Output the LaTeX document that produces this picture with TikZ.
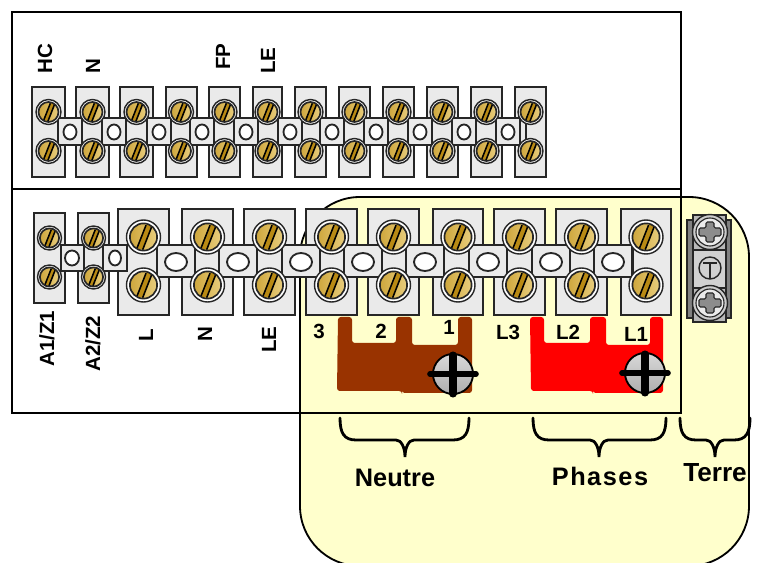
\documentclass[tikz,border=0pt]{standalone}
\usepackage{fontspec}
\setmainfont{Liberation Sans}
\usepackage{xcolor}
\definecolor{fondjaune}{HTML}{FFFFCC}
\definecolor{gris}{HTML}{EAEAEA}
\definecolor{laiton}{HTML}{E6C666}
\definecolor{laitonfonce}{HTML}{B98A14}
\definecolor{brun}{HTML}{993300}
\tikzset{
  cadre/.style={draw=black, line width=1.3pt},
  borne/.style={draw=black!85, fill=gris, line width=1.3pt},
  trou/.style={draw=black!85, fill=white, line width=1.3pt},
  accolade/.style={draw=black, line width=2pt, line cap=round},
  petit/.style={font=\bfseries\fontsize{14.6}{16}\selectfont, inner sep=0pt},
  grand/.style={font=\bfseries\fontsize{18}{20}\selectfont, inner sep=0pt},
  vertical/.style={petit, rotate=90, anchor=west}
}
% vis en laiton: x, y, rayon
\newcommand{\vislaiton}[3]{
  \begin{scope}[shift={(#1,#2)}, scale=#3]
    \draw[fill=white, draw=black!85, line width=1pt] (0,0) circle (1);
    \begin{scope}
      \clip (0,0) circle (0.8);
      \fill[left color=laitonfonce!60!laiton, right color=laiton!80!white] (-1,-1) rectangle (1,1);
      \fill[laitonfonce] (-0.4,0.7) -- (0.15,-0.7) -- (0.5,-0.7) -- (-0.05,0.7) -- cycle;
      \draw[black, line width=1.1pt] (-0.4,0.7) -- (0.15,-0.7);
      \draw[black, line width=1.1pt] (-0.05,0.75) -- (0.5,-0.65);
    \end{scope}
    \draw[black!85, line width=1.2pt] (0,0) circle (0.8);
  \end{scope}
}
% vis de serrage de la barrette: x, y
\newcommand{\visbarrette}[2]{
  \begin{scope}[shift={(#1,#2)}]
    \draw[black, line width=1.3pt, top color=black!15, bottom color=black!32] (0,0) circle (20);
    \draw[black, line width=4pt, line cap=round] (-23,0) -- (23,0);
    \draw[black, line width=5pt, line cap=round] (0,-19) -- (0,20);
  \end{scope}
}
% vis de terre: x, y
\newcommand{\visterre}[2]{
  \begin{scope}[shift={(#1,#2)}]
    \draw[draw=black!85, fill=black!20, line width=1pt] (0,0) circle (17.5);
    \draw[draw=black!85, fill=black!8, line width=.8pt] (0,0) circle (14);
    \draw[draw=black!85, fill=black!45, line width=.8pt, rounded corners=1pt]
      (-4,-10) -- (4,-10) -- (4,-4) -- (11,-4) -- (11,4) -- (4,4) -- (4,10) -- (-4,10) -- (-4,4) -- (-11,4) -- (-11,-4) -- (-4,-4) -- cycle;
  \end{scope}
}
% accolade: gauche, droite, milieu
\newcommand{\accoladeh}[3]{
  \draw[accolade] (#1,418) .. controls (#1,433) and (#1+4,440) .. (#1+16,440)
    -- (#3-9,440) .. controls (#3-4,440) and (#3,447) .. (#3,457)
    .. controls (#3,447) and (#3+4,440) .. (#3+9,440)
    -- (#2-16,440) .. controls (#2-4,440) and (#2,433) .. (#2,418);
}
\begin{document}
\begin{tikzpicture}[x=0.025cm, y=-0.025cm]
  \clip (0,0) rectangle (758,563);
  \fill[white] (0,0) rectangle (758,563);
  % fond
  \draw[black, line width=1.3pt, fill=fondjaune, rounded corners=60*0.025cm] (300,197) rectangle (749,566);
  \draw[cadre] (12,12) rectangle (681,189);
  \draw[cadre] (12,189) rectangle (681,413);

  % rangee du haut
  \foreach \a/\b in {32/65, 76/109, 120/153, 166/197, 209/240, 253/282, 295/326, 339/370, 383/414, 427/458, 471/502, 515/546}
    \draw[borne] (\a,87) rectangle (\b,177);
  \draw[borne] (58,118) rectangle (526,145);
  \foreach \c in {70, 114, 159, 202, 246, 290, 332, 376, 420, 464, 508} {
    \draw[borne] (\c-12,118) rectangle (\c+12,145);
    \draw[trou] (\c,132) ellipse (6.5 and 7.5);
  }
  \foreach \c in {48.5, 92.5, 136.5, 181, 224.5, 267.5, 310.5, 354.5, 398.5, 442.5, 486.5, 530.5} {
    \vislaiton{\c}{112}{12.5}
    \vislaiton{\c}{151}{12.5}
  }

  % rangee du bas
  \foreach \a/\b in {34/65, 78/109}
    \draw[borne] (\a,213) rectangle (\b,303);
  \foreach \a/\b in {118/169, 182/233, 244/295, 306/357, 368/419, 433/483, 494/545, 556/607, 621/671}
    \draw[borne] (\a,209) rectangle (\b,315);
  \draw[borne] (61,245) rectangle (127,271);
  \draw[borne] (61,245) rectangle (84,271);
  \draw[trou] (72,258) ellipse (7 and 7.5);
  \draw[borne] (103,245) rectangle (127,271);
  \draw[trou] (115,258) ellipse (6 and 7.5);
  \draw[borne] (157,245) rectangle (633,277);
  \foreach \c in {176, 238, 301, 363, 425, 488, 551, 613} {
    \draw[borne] (\c-19,245) rectangle (\c+19,277);
    \draw[trou] (\c,262) ellipse (11 and 9);
  }
  \foreach \c in {49.5, 93.5} {
    \vislaiton{\c}{238}{12}
    \vislaiton{\c}{277}{12}
  }
  \foreach \c in {143.5, 207.5, 269.5, 331.5, 393.5, 458, 519.5, 581.5, 646} {
    \vislaiton{\c}{237}{17}
    \vislaiton{\c}{285}{17}
  }

  % barrettes
  \fill[brun, rounded corners=2pt] (338,317) -- (352,317) -- (352,343) -- (396,343) -- (396,317) -- (412,317) -- (412,345) -- (458,345) -- (458,317) -- (472,317) -- (472,393) -- (402,393) -- (402,391) -- (337,391) -- cycle;
  \fill[red, rounded corners=2pt] (530,317) -- (544,317) -- (544,343) -- (590,343) -- (590,317) -- (606,317) -- (606,345) -- (650,345) -- (650,317) -- (663,317) -- (663,393) -- (593,393) -- (593,391) -- (531,391) -- cycle;
  \visbarrette{453}{374}
  \visbarrette{645}{373}

  % borne de terre
  \draw[draw=black!85, fill=black!50, line width=1.2pt] (687,220) rectangle (731,318);
  \draw[draw=black!85, fill=black!28, line width=1.2pt] (693,215) rectangle (726,322);
  \draw[draw=black!85, fill=black!18, line width=.8pt] (693,250) rectangle (726,288);
  \visterre{710}{232}
  \visterre{710}{303}
  \draw[black!85, line width=1pt] (710,268) circle (11);
  \draw[black!85, line width=1.6pt] (710,263) -- (710,279);
  \draw[black!85, line width=1.6pt] (703,263) -- (717,263);

  % reperes
  \node[vertical] (hc) at (45,74) {HC};
  \node[vertical] (nh) at (93,74) {N};
  \node[vertical] (fp) at (223,70) {FP};
  \node[vertical] (leh) at (268,74) {LE};
  \node[vertical] (az1) at (47,367) {A1/Z1};
  \node[vertical] (az2) at (93,372) {A2/Z2};
  \node[vertical] (lb) at (146,342) {L};
  \node[vertical] (nb) at (205,342) {N};
  \node[vertical] (leb) at (269,353) {LE};
  \node[petit] (n3) at (319,331) {3};
  \node[petit] (n2) at (381,331) {2};
  \node[petit] (n1) at (449,327) {1};
  \node[petit] (l3) at (508,332) {L3};
  \node[petit] (l2) at (568,332) {L2};
  \node[petit] (l1) at (636,334) {L1};

  % accolades
  \accoladeh{340}{469}{405}
  \accoladeh{533}{666}{599}
  \accoladeh{680}{750}{715}
  \node[grand] (neutre) at (395,478) {Neutre};
  \node[grand] (phases) at (600,476) {\addfontfeature{LetterSpace=6}Phases};
  \node[grand, font=\bfseries\fontsize{18.6}{20}\selectfont] (terre) at (715,473) {Terre};
\end{tikzpicture}
\end{document}
